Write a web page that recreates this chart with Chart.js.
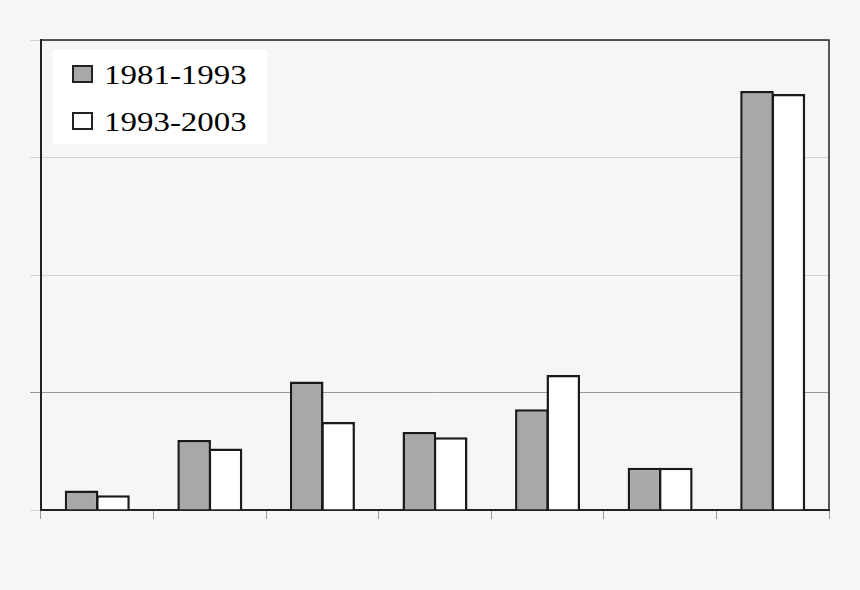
<!DOCTYPE html>
<html>
<head>
<meta charset="utf-8">
<script src="https://cdn.jsdelivr.net/npm/chart.js@4.4.1/dist/chart.umd.min.js"></script>
<style>
  html, body { margin: 0; padding: 0; background: #f6f6f6; }
  #wrap { position: relative; width: 860px; height: 590px; }
  #legend { position: absolute; left: 53px; top: 50px; width: 214px; height: 94px; background: #ffffff; }
  .row { position: absolute; left: 0; height: 27px; }
  .mk { position: absolute; left: 19px; width: 21px; height: 18px; box-sizing: border-box; border: 2px solid #222; }
  .tx { position: absolute; left: 51px; top: 0; font-family: "Liberation Serif", "Times New Roman", serif; font-size: 27px; line-height: 27px; color: #000; white-space: nowrap; transform: scaleX(1.22); transform-origin: left center; }
</style>
</head>
<body>
<div id="wrap">
  <canvas id="c" width="860" height="590"></canvas>
  <div id="legend"></div>
</div>
<script>
const categories = ["A", "B", "C", "D", "E", "F", "G"];
const seriesLabels = ["1981-1993", "1993-2003"];
const values1981_1993 = [1.67, 5.95, 10.93, 6.63, 8.58, 3.59, 35.66];
const values1993_2003 = [1.25, 5.24, 7.48, 6.20, 11.50, 3.59, 35.40];
const yTicks = [0, 10, 20, 30, 40];

const fills = ["#a8a8a8", "#ffffff"];

const frame = {
  id: "frame",
  afterDraw(chart) {
    const a = chart.chartArea, ctx = chart.ctx;
    ctx.save();
    ctx.strokeStyle = "#222";
    ctx.lineWidth = 1.5;
    ctx.beginPath();
    ctx.moveTo(a.left, a.top);
    ctx.lineTo(a.right, a.top);
    ctx.lineTo(a.right, a.bottom);
    ctx.stroke();
    ctx.restore();
  }
};

const chart = new Chart(document.getElementById("c"), {
  type: "bar",
  data: {
    labels: categories,
    datasets: [
      { label: seriesLabels[0], data: values1981_1993, backgroundColor: fills[0], borderColor: "#1a1a1a", borderWidth: 2.5 },
      { label: seriesLabels[1], data: values1993_2003, backgroundColor: fills[1], borderColor: "#1a1a1a", borderWidth: 2.5 }
    ]
  },
  options: {
    responsive: false,
    animation: false,
    layout: { padding: { left: 30, top: 40, right: 31, bottom: 71 } },
    datasets: { bar: { categoryPercentage: 0.558, barPercentage: 1.07 } },
    plugins: { legend: { display: false }, tooltip: { enabled: false } },
    scales: {
      x: {
        grid: { offset: true, drawOnChartArea: false, drawTicks: true, tickLength: 9, tickColor: "#999", lineWidth: 1 },
        border: { color: "#222", width: 2 },
        ticks: { display: false }
      },
      y: {
        min: yTicks[0],
        max: yTicks[yTicks.length - 1],
        afterBuildTicks(scale) { scale.ticks = yTicks.map(v => ({ value: v })); },
        grid: {
          tickLength: 11,
          lineWidth: 1,
          color: (ctx) => (ctx.tick && ctx.tick.value === 10 ? "#999999" : "#d2d2d2"),
          tickColor: (ctx) => (ctx.tick && ctx.tick.value === 10 ? "#999999" : "#d2d2d2")
        },
        border: { color: "#222", width: 2 },
        ticks: { display: false }
      }
    }
  },
  plugins: [frame]
});

const legend = document.getElementById("legend");
chart.data.datasets.forEach((ds, i) => {
  const row = document.createElement("div");
  row.className = "row";
  row.style.top = (12 + i * 46.7) + "px";
  row.style.width = "214px";
  const mk = document.createElement("div");
  mk.className = "mk";
  mk.style.top = "3px";
  mk.style.background = ds.backgroundColor;
  const tx = document.createElement("span");
  tx.className = "tx";
  tx.textContent = ds.label;
  row.appendChild(mk);
  row.appendChild(tx);
  legend.appendChild(row);
});
</script>
</body>
</html>
